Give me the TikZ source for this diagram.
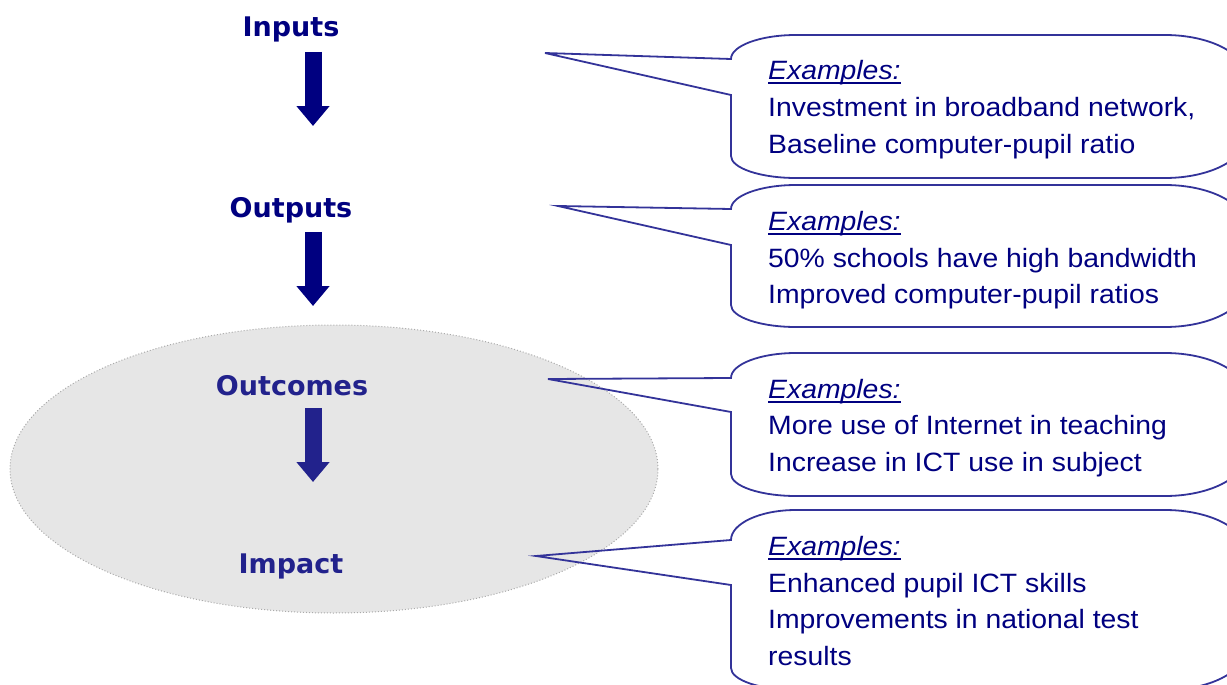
\documentclass[tikz,border=0pt]{standalone}
\usepackage{fontspec}
\setmainfont{Liberation Sans}[FakeStretch=1.07]
\newfontfamily\headfont{DejaVu Sans}
\usetikzlibrary{arrows.meta,shapes.geometric}
\definecolor{navy}{HTML}{000080}
\definecolor{navysoft}{HTML}{22228C}
\definecolor{callblue}{HTML}{333399}
\definecolor{zonefill}{HTML}{E6E6E6}
\definecolor{zoneedge}{HTML}{AAAAAA}
\newcommand\mycallout[5]{%
  \draw[callout] (#1) -- (731,#2)
    .. controls (731,{#2-0.55*(#2-#4)}) and (760,#4) .. (796,#4)
    -- (1165,#4) .. controls (1209,#4) and (1245,{#4+18}) .. (1245,{#4+40})
    -- (1245,{#5-40}) .. controls (1245,{#5-18}) and (1209,#5) .. (1165,#5)
    -- (796,#5) .. controls (760,#5) and (731,{#5-10}) .. (731,{#5-22})
    -- (731,#3) -- cycle;}
\begin{document}
\begin{tikzpicture}[x=1pt,y=-1pt,
  heading/.style={anchor=base,inner sep=0pt,font=\headfont\bfseries\fontsize{27}{30}\selectfont,text=navy},
  zoneheading/.style={heading,text=navysoft},
  body/.style={anchor=base west,inner sep=0pt,font=\fontsize{26.5}{36.5}\selectfont,text=navy},
  exlabel/.style={body,font=\itshape\fontsize{26.5}{36.5}\selectfont},
  underl/.style={draw=navy,line width=2pt},
  blockarrow/.style={draw=navy,line width=17pt,-{Triangle[width=32pt,length=20pt]}},
  zonearrow/.style={blockarrow,draw=navysoft},
  callout/.style={draw=callblue,line width=1.8pt,line join=miter}]
\useasboundingbox (0,0) rectangle (1227,685);
\clip (0,0) rectangle (1227,685);
% shaded zone
\node (zone) [ellipse,fill=zonefill,draw=zoneedge,dotted,line width=1pt,
  minimum width=648pt,minimum height=288pt,inner sep=0pt] at (334,469) {};
% headings
\node (inputs) [heading] at (291,37) {Inputs};
\node (outputs) [heading] at (291,217) {Outputs};
\node (outcomes) [zoneheading] at (292,395) {Outcomes};
\node (impact) [zoneheading] at (291,573) {Impact};
% block arrows
\coordinate (a1s) at (313,52);  \coordinate (a1e) at (313,126);
\coordinate (a2s) at (313,232); \coordinate (a2e) at (313,306);
\coordinate (a3s) at (313,408); \coordinate (a3e) at (313,482);
\draw[blockarrow] (a1s) -- (a1e);
\draw[blockarrow] (a2s) -- (a2e);
\draw[zonearrow] (a3s) -- (a3e);
% callout tips
\coordinate (t1) at (545,53);
\coordinate (t2) at (558,206);
\coordinate (t3) at (548,379);
\coordinate (t4) at (536,556);
\mycallout{t1}{59}{95}{35}{178}
\mycallout{t2}{209}{245}{185}{327}
\mycallout{t3}{378}{412}{353}{496}
\mycallout{t4}{540}{585}{510}{690}
% callout texts
\node (ex1) [exlabel] at (768,80) {Examples:};
\node (b1a) [body] at (768,117) {Investment in broadband network,};
\node (b1b) [body] at (768,153) {Baseline computer-pupil ratio};
\node (ex2) [exlabel] at (768,230) {Examples:};
\node (b2a) [body] at (768,267) {50\% schools have high bandwidth};
\node (b2b) [body] at (768,303) {Improved computer-pupil ratios};
\node (ex3) [exlabel] at (768,398) {Examples:};
\node (b3a) [body] at (768,434) {More use of Internet in teaching};
\node (b3b) [body] at (768,471) {Increase in ICT use in subject};
\node (ex4) [exlabel] at (768,555) {Examples:};
\node (b4a) [body] at (768,592) {Enhanced pupil ICT skills};
\node (b4b) [body] at (768,628) {Improvements in national test};
\node (b4c) [body] at (768,665) {results};
% underlines
\foreach \e in {ex1,ex2,ex3,ex4}{
  \draw[underl] ([yshift=-3.5pt]\e.base west) -- ([yshift=-3.5pt]\e.base east);
}
\end{tikzpicture}
\end{document}
